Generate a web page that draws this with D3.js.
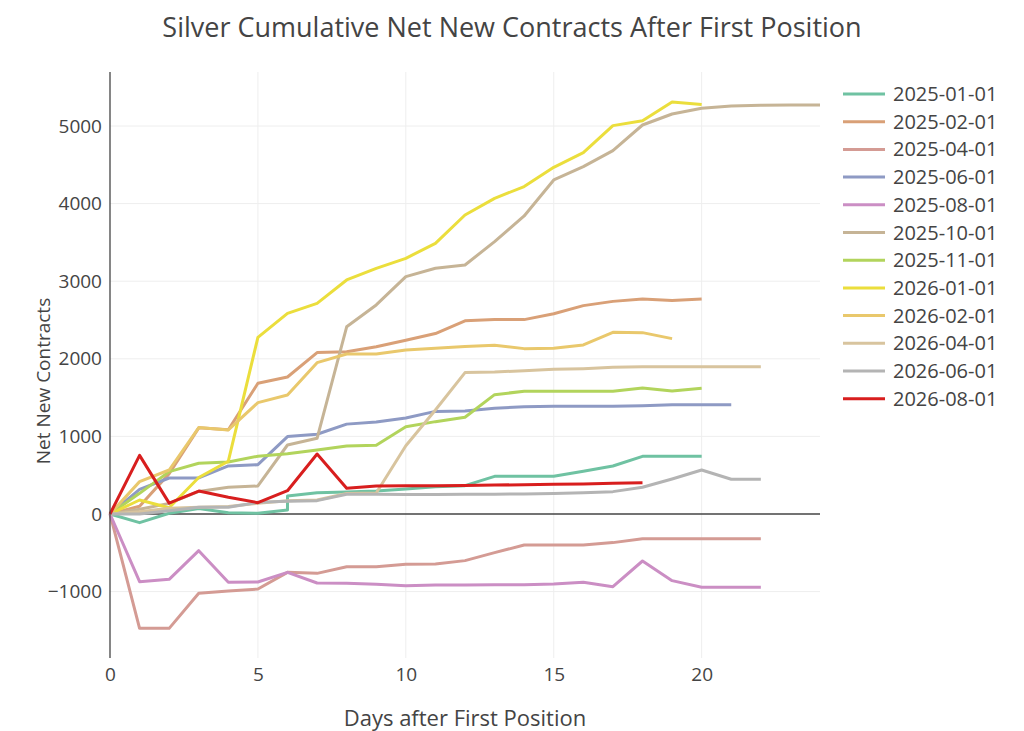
<!DOCTYPE html>
<html>
<head>
<meta charset="utf-8">
<script src="https://cdn.jsdelivr.net/npm/d3@7"></script>
<style>
  html, body { margin: 0; padding: 0; background: #fff; }
  svg { display: block; font-family: "Open Sans", "DejaVu Sans", sans-serif; }
</style>
</head>
<body>
<svg id="chart" width="1024" height="731"></svg>
<script>
// ---- data ----
const seriesNames = ["2025-01-01","2025-02-01","2025-04-01","2025-06-01","2025-08-01","2025-10-01",
                     "2025-11-01","2026-01-01","2026-02-01","2026-04-01","2026-06-01","2026-08-01"];
const seriesColors = ["#6fc2a2","#d9a077","#d49b94","#8e9ac4","#cb8ec4","#c6b496",
                      "#b2d45c","#ebde3c","#e9c86c","#d8c49e","#b4b4b4","#d81e1e"];

const days2025_01 = [0,1,2,3,4,5,6,6,7,8,9,10,11,12,13,14,15,16,17,18,19,20];
const vals2025_01 = [0,-112,10,70,17,9,50,232,275,283,296,322,350,365,485,485,485,550,619,743,743,743];
const vals2025_02 = [0,100,520,1110,1085,1684,1765,2080,2090,2155,2240,2325,2490,2505,2505,2580,2685,2740,2770,2750,2770];
const vals2025_04 = [0,-1474,-1474,-1022,-992,-967,-752,-765,-679,-679,-649,-644,-601,-498,-400,-400,-400,-369,-318,-318,-318,-318,-318];
const vals2025_06 = [0,318,464,464,619,635,997,1027,1158,1185,1238,1322,1327,1362,1383,1388,1388,1388,1396,1409,1409,1409];
const vals2025_08 = [0,-872,-842,-473,-881,-876,-752,-889,-894,-906,-924,-915,-915,-911,-911,-902,-881,-937,-606,-859,-945,-945,-945];
const vals2025_10 = [0,60,137,290,344,361,889,975,2412,2694,3059,3166,3209,3510,3841,4305,4476,4683,5013,5155,5228,5258,5267,5270,5270];
const vals2025_11 = [0,266,546,653,670,745,775,825,876,885,1125,1190,1246,1538,1581,1581,1581,1581,1624,1585,1620];
const vals2026_01 = [0,180,80,470,680,2277,2586,2715,3016,3166,3295,3488,3853,4068,4219,4468,4657,5005,5069,5310,5276];
const vals2026_02 = [0,417,567,1113,1083,1435,1533,1950,2062,2062,2114,2135,2157,2174,2131,2135,2178,2341,2337,2260];
const vals2026_04 = [0,30,73,86,95,137,172,180,265,270,880,1340,1822,1830,1847,1864,1873,1890,1899,1899,1899,1899,1899];
const vals2026_06 = [0,0,43,86,86,150,165,172,255,253,250,250,253,255,258,265,275,288,344,451,567,447,447];
const vals2026_08 = [0,755,140,295,215,146,300,773,331,361,365,365,368,372,378,383,388,395,402];

const xTicks = [0,5,10,15,20];
const yTicks = [-1000,0,1000,2000,3000,4000,5000];

const seriesValues = [vals2025_01,vals2025_02,vals2025_04,vals2025_06,vals2025_08,vals2025_10,
                      vals2025_11,vals2026_01,vals2026_02,vals2026_04,vals2026_06,vals2026_08];
const seriesDays = seriesValues.map((v,i) => i === 0 ? days2025_01 : v.map((_,j) => j));

// ---- layout ----
const svg = d3.select("#chart");
const L = 110, R = 820, T = 72, B = 658;
const x = d3.scaleLinear().domain([0,24]).range([L,R]);
const y = d3.scaleLinear().domain([-1856,5696]).range([B,T]);
const textColor = "#444";

// grid
const g = svg.append("g");
g.selectAll(".hg").data(yTicks.filter(d => d !== 0)).join("line")
  .attr("x1", L).attr("x2", R).attr("y1", d => y(d)).attr("y2", d => y(d))
  .attr("stroke", "#eeeeee").attr("stroke-width", 1);
g.selectAll(".vg").data(xTicks.filter(d => d !== 0)).join("line")
  .attr("x1", d => x(d)).attr("x2", d => x(d)).attr("y1", T).attr("y2", B)
  .attr("stroke", "#eeeeee").attr("stroke-width", 1);

// zero line
g.append("line").attr("x1", L).attr("x2", R).attr("y1", y(0)).attr("y2", y(0))
  .attr("stroke", "#444").attr("stroke-width", 1.3);

// lines
const line = d3.line().x(d => x(d[0])).y(d => y(d[1]));
const lg = svg.append("g");
seriesValues.forEach((vals, i) => {
  const pts = vals.map((v, j) => [seriesDays[i][j], v]);
  lg.append("path").datum(pts)
    .attr("d", line)
    .attr("fill", "none")
    .attr("stroke", seriesColors[i])
    .attr("stroke-width", 3)
    .attr("stroke-linejoin", "round");
});

// y axis line
svg.append("line").attr("x1", L).attr("x2", L).attr("y1", T).attr("y2", B)
  .attr("stroke", "#444").attr("stroke-width", 1.3);

// axes ticks labels via d3 axes
const yAxis = d3.axisLeft(y).tickValues(yTicks).tickSize(0).tickPadding(8)
  .tickFormat(d => d < 0 ? "\u2212" + Math.abs(d) : String(d));
const ya = svg.append("g").attr("transform", `translate(${L},0)`).call(yAxis);
ya.select(".domain").remove();
ya.selectAll("text").attr("fill", textColor).style("font-size", "19px")
  .style("font-family", "'Open Sans', 'DejaVu Sans', sans-serif");

const xAxis = d3.axisBottom(x).tickValues(xTicks).tickSize(0).tickPadding(10);
const xa = svg.append("g").attr("transform", `translate(0,${B})`).call(xAxis);
xa.select(".domain").remove();
xa.selectAll("text").attr("fill", textColor).style("font-size", "19px")
  .style("font-family", "'Open Sans', 'DejaVu Sans', sans-serif");

// titles
svg.append("text").attr("x", 512).attr("y", 37).attr("text-anchor", "middle")
  .attr("fill", textColor).style("font-size", "27px").text("Silver Cumulative Net New Contracts After First Position");
svg.append("text").attr("x", (L+R)/2).attr("y", 726).attr("text-anchor", "middle")
  .attr("fill", textColor).style("font-size", "22px").text("Days after First Position");
svg.append("text").attr("transform", `translate(50,381) rotate(-90)`).attr("text-anchor", "middle")
  .attr("fill", textColor).style("font-size", "19px").text("Net New Contracts");

// legend
const leg = svg.append("g");
seriesNames.forEach((name, i) => {
  const yy = 94 + i * 27.7;
  leg.append("line").attr("x1", 843).attr("x2", 885).attr("y1", yy).attr("y2", yy)
    .attr("stroke", seriesColors[i]).attr("stroke-width", 3);
  leg.append("text").attr("x", 893).attr("y", yy + 7).attr("fill", textColor)
    .style("font-size", "20px").text(name);
});
</script>
</body>
</html>
